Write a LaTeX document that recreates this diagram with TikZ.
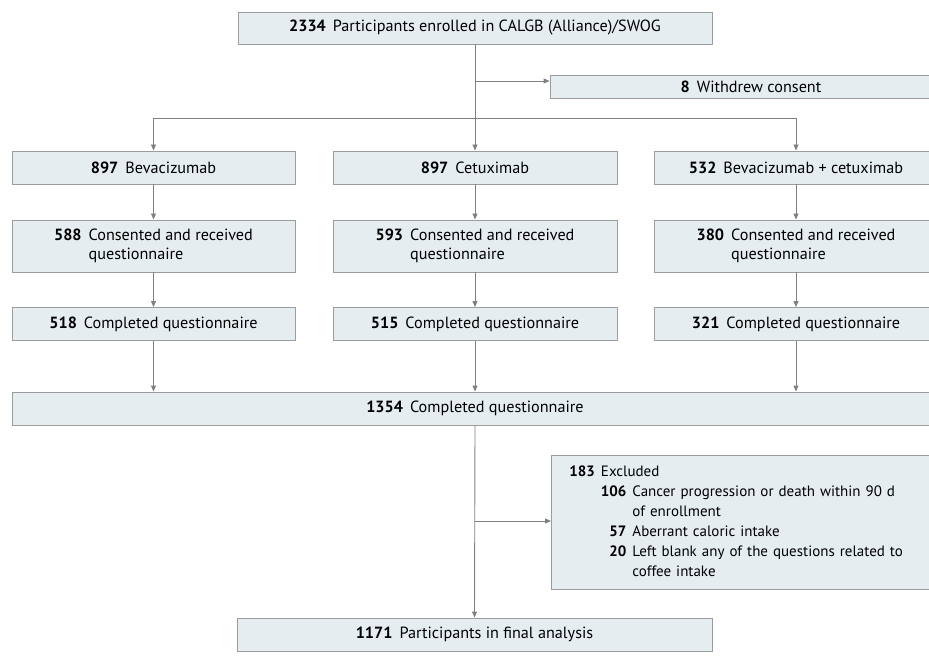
\documentclass[tikz,border=0pt]{standalone}
\usepackage{fontspec}
\setmainfont{PT Sans}
\usetikzlibrary{arrows.meta}
\definecolor{boxfill}{HTML}{E6EDF1}
\definecolor{boxline}{HTML}{9C9C9C}
\definecolor{arrowc}{HTML}{808080}
\newcommand{\nsp}{\hspace{7pt}}
\begin{document}
\begin{tikzpicture}[x=1pt,y=-1pt,
  box/.style={draw=boxline, fill=boxfill, line width=0.9pt, inner sep=0pt, align=center, font=\fontsize{16.2}{19}\selectfont},
  ln/.style={draw=arrowc, line width=0.9pt},
  arr/.style={draw=arrowc, line width=0.9pt, -{Triangle[length=6pt,width=5pt]}}]
\useasboundingbox (0,0) rectangle (929,671);
% boxes
\node[box, minimum width=474pt, minimum height=32pt] (top) at (475,28) {\textbf{2334}\nsp Participants enrolled in CALGB (Alliance)/SWOG};
\node[box, minimum width=402pt, minimum height=23pt] (wd) at (751,86.5) {\textbf{8}\nsp Withdrew consent};
\node[box, minimum width=283pt, minimum height=33pt] (b1) at (153.5,167.5) {\textbf{897}\nsp Bevacizumab};
\node[box, minimum width=284pt, minimum height=33pt] (b2) at (475,167.5) {\textbf{897}\nsp Cetuximab};
\node[box, minimum width=284pt, minimum height=33pt] (b3) at (796,167.5) {\textbf{532}\nsp Bevacizumab + cetuximab};
\node[box, minimum width=283pt, minimum height=52pt] (c1) at (153.5,246) {\begin{tabular}{@{}l@{\nsp}l@{}}\textbf{588} & Consented and received\\ & questionnaire\end{tabular}};
\node[box, minimum width=284pt, minimum height=52pt] (c2) at (475,246) {\begin{tabular}{@{}l@{\nsp}l@{}}\textbf{593} & Consented and received\\ & questionnaire\end{tabular}};
\node[box, minimum width=284pt, minimum height=52pt] (c3) at (796,246) {\begin{tabular}{@{}l@{\nsp}l@{}}\textbf{380} & Consented and received\\ & questionnaire\end{tabular}};
\node[box, minimum width=283pt, minimum height=33pt] (d1) at (153.5,324) {\textbf{518}\nsp Completed questionnaire};
\node[box, minimum width=284pt, minimum height=33pt] (d2) at (475,324) {\textbf{515}\nsp Completed questionnaire};
\node[box, minimum width=284pt, minimum height=33pt] (d3) at (796,324) {\textbf{321}\nsp Completed questionnaire};
\node[box, minimum width=926pt, minimum height=33pt] (all) at (475,408.5) {\textbf{1354}\nsp Completed questionnaire};
\node[box, minimum width=387pt, minimum height=134pt, anchor=north west, align=left, text width=351pt, inner xsep=18pt, font=\fontsize{15}{20}\selectfont] (ex) at (551,455) {\begin{tabular}{@{}l@{}r@{\hspace{6pt}}l@{}}
\textbf{183}\hspace{6pt} & \multicolumn{2}{@{}l@{}}{Excluded}\\
 & \textbf{106} & Cancer progression or death within 90 d\\
 & & of enrollment\\
 & \textbf{57} & Aberrant caloric intake\\
 & \textbf{20} & Left blank any of the questions related to\\
 & & coffee intake
\end{tabular}};
\node[box, minimum width=475pt, minimum height=33pt] (fin) at (474.5,634.5) {\textbf{1171}\nsp Participants in final analysis};
% junctions
\coordinate (wdj) at (475,81);
\coordinate (br) at (475,118);
\coordinate (exj) at (475,521);
% connectors
\draw[ln] (top.south) -- (br);
\draw[arr] (wdj) -- (wdj -| wd.west);
\draw[arr] (br) -| (b1.north);
\draw[arr] (br) -- (b2.north);
\draw[arr] (br) -| (b3.north);
\draw[arr] (b1) -- (c1);
\draw[arr] (b2) -- (c2);
\draw[arr] (b3) -- (c3);
\draw[arr] (c1) -- (d1);
\draw[arr] (c2) -- (d2);
\draw[arr] (c3) -- (d3);
\draw[arr] (d1.south) -- (d1.south |- all.north);
\draw[arr] (d2.south) -- (d2.south |- all.north);
\draw[arr] (d3.south) -- (d3.south |- all.north);
\draw[arr] (all.south) -- (fin.north);
\draw[arr] (exj) -- (exj -| ex.west);
\end{tikzpicture}
\end{document}
